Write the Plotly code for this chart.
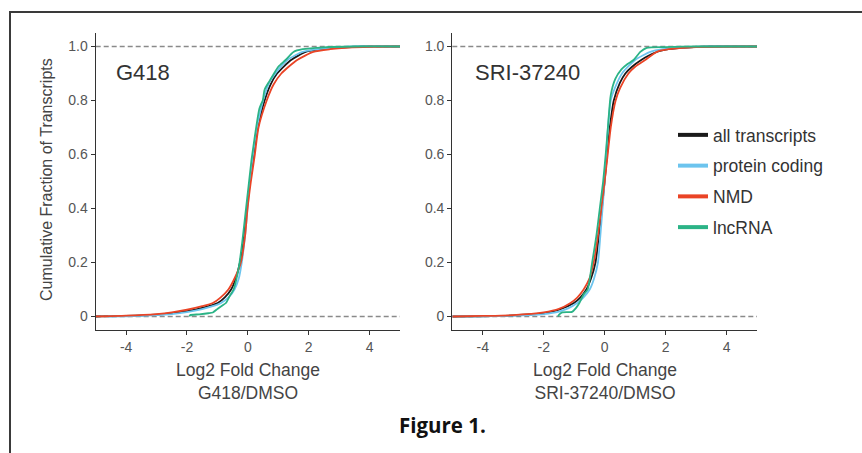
import plotly.graph_objects as go

# ---------------- data ----------------
series_names = ["all transcripts", "protein coding", "NMD", "lncRNA"]
series_colors = ["#1a1a1a", "#6cc4ee", "#ea4426", "#2bb386"]

# Panel 1: G418/DMSO
g418_all_x = [-5.0, -4.0, -3.0, -2.5, -2.0, -1.5, -0.99, -0.75, -0.55, -0.4, -0.26, -0.12, -0.03, 0.07, 0.19, 0.33, 0.55, 0.75, 0.96, 1.42, 1.9, 2.4, 3.0, 3.8, 5.0]
g418_all_y = [0.0, 0.002, 0.007, 0.012, 0.02, 0.032, 0.05, 0.072, 0.1, 0.14, 0.2, 0.3, 0.4, 0.5, 0.6, 0.7, 0.8, 0.86, 0.9, 0.95, 0.98, 0.99, 0.996, 1.0, 1.0]
g418_pc_x = [-4.6, -4.0, -3.0, -2.5, -2.0, -1.5, -1.1, -0.88, -0.6, -0.44, -0.3, -0.2, -0.09, -0.01, 0.07, 0.17, 0.3, 0.5, 0.7, 0.9, 1.3, 1.8, 2.3, 3.0, 3.5, 5.0]
g418_pc_y = [0.0, 0.001, 0.005, 0.009, 0.016, 0.027, 0.04, 0.05, 0.075, 0.1, 0.14, 0.2, 0.3, 0.4, 0.5, 0.6, 0.7, 0.8, 0.865, 0.9, 0.95, 0.98, 0.99, 0.997, 1.0, 1.0]
g418_nmd_x = [-5.1, -4.0, -3.0, -2.5, -2.0, -1.5, -1.15, -0.9, -0.64, -0.4, -0.23, -0.09, -0.01, 0.1, 0.23, 0.35, 0.62, 0.85, 1.1, 1.62, 2.15, 2.7, 3.3, 4.0, 5.0]
g418_nmd_y = [0.0, 0.003, 0.009, 0.015, 0.025, 0.038, 0.05, 0.07, 0.1, 0.15, 0.2, 0.3, 0.4, 0.5, 0.6, 0.7, 0.8, 0.86, 0.9, 0.95, 0.98, 0.99, 0.996, 0.999, 1.0]
g418_lnc_x = [-1.92, -1.9, -1.6, -1.3, -1.15, -1.0, -0.85, -0.72, -0.6, -0.47, -0.3, -0.18, -0.08, 0.02, 0.12, 0.22, 0.3, 0.38, 0.45, 0.49, 0.55, 0.7, 0.86, 1.0, 1.24, 1.5, 1.8, 2.5, 3.5, 5.0]
g418_lnc_y = [0.0, 0.005, 0.008, 0.012, 0.015, 0.028, 0.04, 0.05, 0.075, 0.1, 0.18, 0.28, 0.38, 0.48, 0.58, 0.66, 0.72, 0.77, 0.79, 0.8, 0.84, 0.87, 0.9, 0.925, 0.95, 0.98, 0.99, 0.997, 1.0, 1.0]

# Panel 2: SRI-37240/DMSO
sri_all_x = [-5.0, -4.0, -3.0, -2.0, -1.5, -1.01, -0.8, -0.6, -0.45, -0.3, -0.19, -0.09, 0.0, 0.08, 0.17, 0.3, 0.5, 0.68, 0.9, 1.2, 1.6, 2.0, 2.5, 3.5, 5.0]
sri_all_y = [0.0, 0.001, 0.004, 0.012, 0.025, 0.05, 0.07, 0.1, 0.14, 0.2, 0.3, 0.4, 0.5, 0.6, 0.7, 0.8, 0.865, 0.9, 0.925, 0.95, 0.975, 0.988, 0.995, 1.0, 1.0]
sri_pc_x = [-5.12, -4.0, -3.0, -2.0, -1.5, -1.2, -0.9, -0.7, -0.49, -0.35, -0.22, -0.14, -0.07, 0.0, 0.05, 0.11, 0.2, 0.35, 0.57, 1.0, 1.5, 1.9, 2.5, 3.5, 5.34]
sri_pc_y = [0.0, 0.001, 0.003, 0.009, 0.018, 0.03, 0.05, 0.07, 0.1, 0.14, 0.2, 0.3, 0.4, 0.5, 0.6, 0.7, 0.8, 0.85, 0.9, 0.95, 0.98, 0.99, 0.996, 1.0, 1.0]
sri_nmd_x = [-5.0, -4.0, -3.0, -2.0, -1.5, -1.12, -0.9, -0.69, -0.5, -0.36, -0.22, -0.11, 0.0, 0.1, 0.2, 0.36, 0.51, 0.78, 1.0, 1.33, 1.71, 2.1, 3.0, 5.0]
sri_nmd_y = [0.0, 0.002, 0.005, 0.015, 0.028, 0.05, 0.07, 0.1, 0.14, 0.2, 0.3, 0.4, 0.5, 0.6, 0.7, 0.8, 0.847, 0.9, 0.925, 0.95, 0.98, 0.99, 0.998, 1.0]
sri_lnc_x = [-1.53, -1.5, -1.39, -1.07, -0.95, -0.83, -0.7, -0.56, -0.41, -0.27, -0.16, -0.05, 0.05, 0.12, 0.2, 0.35, 0.55, 0.75, 0.95, 1.17, 1.38, 2.0, 3.0, 5.0]
sri_lnc_y = [0.0, 0.006, 0.015, 0.017, 0.03, 0.05, 0.08, 0.1, 0.2, 0.3, 0.4, 0.5, 0.62, 0.72, 0.82, 0.88, 0.915, 0.935, 0.95, 0.98, 0.995, 0.998, 1.0, 1.0]

panel_titles = ["G418", "SRI-37240"]
x_titles = ["Log2 Fold Change<br>G418/DMSO", "Log2 Fold Change<br>SRI-37240/DMSO"]
y_title = "Cumulative Fraction of Transcripts"
x_ticks = [-4, -2, 0, 2, 4]
y_ticks = [0, 0.2, 0.4, 0.6, 0.8, 1.0]
y_tick_labels = ["0", "0.2", "0.4", "0.6", "0.8", "1.0"]
figure_caption = "Figure 1."

panels = [
    [(g418_all_x, g418_all_y), (g418_pc_x, g418_pc_y), (g418_nmd_x, g418_nmd_y), (g418_lnc_x, g418_lnc_y)],
    [(sri_all_x, sri_all_y), (sri_pc_x, sri_pc_y), (sri_nmd_x, sri_nmd_y), (sri_lnc_x, sri_lnc_y)],
]

# ---------------- figure ----------------
W, H = 862, 453
FONT = "Liberation Sans, Arial, sans-serif"
fig = go.Figure()

for p, curves in enumerate(panels):
    xa = "x" if p == 0 else "x2"
    ya = "y" if p == 0 else "y2"
    for i, (xs, ys) in enumerate(curves):
        fig.add_trace(go.Scatter(
            x=xs, y=ys, mode="lines", xaxis=xa, yaxis=ya,
            line=dict(color=series_colors[i], width=1.8, shape="spline", smoothing=0.6),
            showlegend=False, hoverinfo="skip"))

# legend entries (thicker keys)
for i, name in enumerate(series_names):
    fig.add_trace(go.Scatter(
        x=[None], y=[None], mode="lines", name=name, xaxis="x2", yaxis="y2",
        line=dict(color=series_colors[i], width=4), legendgroup=name, showlegend=True))

x_domains = [[95.7 / W, 400 / W], [452.3 / W, 757 / W]]
y_domain = [1 - 330 / H, 1 - 33 / H]

axis_common = dict(
    showgrid=False, zeroline=False, showline=True, linecolor="#333333", linewidth=1.3,
    ticks="outside", ticklen=4, tickcolor="#333333", tickwidth=1.1,
    tickfont=dict(family=FONT, size=14, color="#555555"),
)

layout_axes = {}
for p in range(2):
    sx = "" if p == 0 else "2"
    layout_axes["xaxis" + sx] = dict(
        axis_common, domain=x_domains[p], range=[-5, 5], tickvals=x_ticks,
        ticktext=[str(t) for t in x_ticks],
        anchor="y" + sx, fixedrange=True)
    layout_axes["yaxis" + sx] = dict(
        axis_common, domain=y_domain, range=[-0.05, 1.05], tickvals=y_ticks,
        ticktext=y_tick_labels, anchor="x" + sx, fixedrange=True)

fig.update_layout(**layout_axes)

shapes = []
for p in range(2):
    sx = "" if p == 0 else "2"
    for yv in (0, 1):
        shapes.append(dict(type="line", xref="x" + sx + " domain", x0=0, x1=1,
                           yref="y" + sx, y0=yv, y1=yv, layer="below",
                           line=dict(color="#8a8a8a", width=1.3, dash="5px,3px")))
# outer frame
shapes.append(dict(type="rect", xref="paper", yref="paper",
                   x0=10 / W, x1=1.02, y0=-0.02, y1=1 - 12 / H,
                   line=dict(color="#3a3a3a", width=2), fillcolor="rgba(0,0,0,0)"))

annotations = []
title_x = [114, 473]
for p in range(2):
    annotations.append(dict(text=panel_titles[p], xref="paper", yref="paper",
                            x=title_x[p] / W, y=1 - 73 / H, xanchor="left", yanchor="middle",
                            showarrow=False, font=dict(family=FONT, size=22, color="#333333")))
xt_center = [248, 604.5]
for p in range(2):
    annotations.append(dict(text=x_titles[p], xref="paper", yref="paper",
                            x=xt_center[p] / W, y=1 - 381 / H, xanchor="center", yanchor="middle",
                            showarrow=False, align="center",
                            font=dict(family=FONT, size=17.5, color="#444444")))
annotations.append(dict(text=y_title, xref="paper", yref="paper", x=46 / W, y=1 - 180 / H,
                        xanchor="center", yanchor="middle", textangle=-90, showarrow=False,
                        font=dict(family=FONT, size=16, color="#444444")))
annotations.append(dict(text="<b>" + figure_caption + "</b>", xref="paper", yref="paper",
                        x=442 / W, y=1 - 425 / H, xanchor="center", yanchor="middle",
                        showarrow=False, font=dict(family="Open Sans, sans-serif", size=20.5, color="#111111")))

fig.update_layout(
    width=W, height=H, margin=dict(l=0, r=0, t=0, b=0),
    paper_bgcolor="white", plot_bgcolor="white",
    shapes=shapes, annotations=annotations,
    legend=dict(x=673 / W, y=1 - 117 / H, xanchor="left", yanchor="top",
                bgcolor="rgba(0,0,0,0)", borderwidth=0, tracegroupgap=5,
                traceorder="grouped", itemwidth=30,
                font=dict(family=FONT, size=17.5, color="#333333")),
    showlegend=True,
)

fig.write_html("out.html", post_script="document.body.style.margin='0px';",
               config={"displayModeBar": False})
